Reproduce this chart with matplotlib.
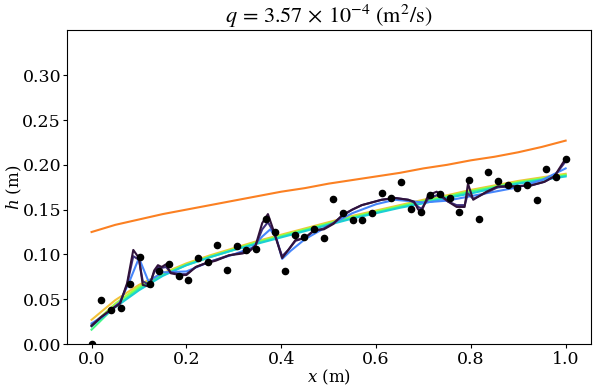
import matplotlib
matplotlib.use("Agg")
from matplotlib import pyplot as plt

plt.rcParams['font.family'] = 'DejaVu Serif'
plt.rcParams['mathtext.fontset'] = 'dejavuserif'
plt.rcParams['font.size'] = 12.5

# measured points (50 evenly spaced stations)
x_data = [i / 49 for i in range(50)]
h_data = [0.000, 0.049, 0.038, 0.040, 0.067, 0.097, 0.067, 0.082, 0.089, 0.076,
          0.071, 0.096, 0.091, 0.110, 0.083, 0.109, 0.105, 0.106, 0.140, 0.125,
          0.081, 0.122, 0.119, 0.128, 0.118, 0.162, 0.146, 0.138, 0.138, 0.146,
          0.168, 0.163, 0.181, 0.151, 0.147, 0.166, 0.167, 0.163, 0.147, 0.183,
          0.140, 0.192, 0.182, 0.178, 0.174, 0.178, 0.161, 0.195, 0.186, 0.207]

# least smoothed fit
x_purple = [0.0, 0.02, 0.04, 0.06, 0.075, 0.088, 0.100, 0.108, 0.122, 0.132, 0.140,
            0.148, 0.157, 0.167, 0.185, 0.200, 0.220, 0.240, 0.262, 0.290, 0.318,
            0.332, 0.346, 0.360, 0.372, 0.385, 0.402, 0.415, 0.430, 0.450, 0.469,
            0.490, 0.510, 0.529, 0.550, 0.570, 0.612, 0.640, 0.668, 0.680, 0.689,
            0.696, 0.710, 0.728, 0.738, 0.752, 0.770, 0.787, 0.794, 0.805, 0.833,
            0.857, 0.892, 0.927, 0.955, 0.976, 1.0]
h_purple = [0.020, 0.030, 0.038, 0.045, 0.068, 0.105, 0.096, 0.066, 0.064, 0.082, 0.088,
            0.086, 0.089, 0.079, 0.077, 0.077, 0.086, 0.090, 0.093, 0.099, 0.101,
            0.103, 0.110, 0.135, 0.145, 0.125, 0.096, 0.105, 0.116, 0.118, 0.127,
            0.128, 0.134, 0.144, 0.150, 0.155, 0.161, 0.163, 0.161, 0.159, 0.150,
            0.148, 0.166, 0.170, 0.166, 0.159, 0.153, 0.153, 0.179, 0.161, 0.170,
            0.176, 0.176, 0.177, 0.181, 0.187, 0.207]
h_navy = [0.021, 0.030, 0.038, 0.046, 0.066, 0.098, 0.094, 0.070, 0.066, 0.080, 0.086,
          0.085, 0.086, 0.080, 0.078, 0.078, 0.086, 0.090, 0.094, 0.099, 0.102,
          0.104, 0.110, 0.128, 0.136, 0.124, 0.098, 0.105, 0.115, 0.119, 0.126,
          0.129, 0.135, 0.143, 0.150, 0.155, 0.161, 0.163, 0.161, 0.158, 0.153,
          0.151, 0.162, 0.166, 0.164, 0.159, 0.155, 0.155, 0.168, 0.162, 0.169,
          0.175, 0.176, 0.177, 0.181, 0.187, 0.204]

x_blue = [0.0, 0.03, 0.06, 0.08, 0.10, 0.12, 0.15, 0.20, 0.25, 0.30, 0.34, 0.36,
          0.377, 0.39, 0.402, 0.42, 0.45, 0.50, 0.55, 0.60, 0.64, 0.70, 0.75,
          0.80, 0.85, 0.90, 0.95, 1.0]
h_blue = [0.023, 0.033, 0.047, 0.070, 0.096, 0.070, 0.080, 0.081, 0.092, 0.100, 0.108,
          0.120, 0.128, 0.118, 0.095, 0.104, 0.117, 0.132, 0.146, 0.156, 0.161, 0.158,
          0.160, 0.165, 0.170, 0.175, 0.183, 0.196]

# smoother fits on a regular grid
x_grid = [i * 0.05 for i in range(21)]
h_cyan = [0.020, 0.041, 0.060, 0.076, 0.088, 0.097, 0.105, 0.112, 0.119, 0.126, 0.133,
          0.140, 0.146, 0.152, 0.157, 0.163, 0.168, 0.174, 0.179, 0.183, 0.187]
h_green = [0.016, 0.042, 0.062, 0.077, 0.088, 0.097, 0.105, 0.113, 0.120, 0.127, 0.134,
           0.141, 0.147, 0.153, 0.159, 0.164, 0.170, 0.175, 0.180, 0.184, 0.188]
h_lime = [0.021, 0.045, 0.064, 0.078, 0.089, 0.098, 0.106, 0.114, 0.121, 0.128, 0.135,
          0.142, 0.148, 0.154, 0.160, 0.165, 0.171, 0.176, 0.181, 0.185, 0.189]
h_yellow = [0.027, 0.049, 0.066, 0.079, 0.090, 0.099, 0.107, 0.115, 0.122, 0.129, 0.136,
            0.143, 0.149, 0.155, 0.161, 0.166, 0.172, 0.177, 0.182, 0.186, 0.190]
h_orange = [0.125, 0.133, 0.139, 0.145, 0.150, 0.155, 0.160, 0.165, 0.170, 0.174, 0.179,
            0.183, 0.187, 0.191, 0.196, 0.200, 0.205, 0.209, 0.214, 0.220, 0.227]

fig = plt.figure(figsize=(5.98, 3.92), dpi=100)
ax = fig.add_axes([0.1115, 0.1224, 0.876, 0.800])

ax.plot(x_grid, h_orange, color='#fb8022', lw=1.5)
ax.plot(x_grid, h_yellow, color='#f3c33a', lw=1.5)
ax.plot(x_grid, h_lime, color='#a4fc3c', lw=1.5)
ax.plot(x_grid, h_green, color='#46f884', lw=1.5)
ax.plot(x_grid, h_cyan, color='#1bcfd4', lw=1.5)
ax.plot(x_blue, h_blue, color='#4686fb', lw=1.5)
ax.plot(x_purple, h_navy, color='#3e2f7e', lw=1.5)
ax.plot(x_purple, h_purple, color='#30123b', lw=1.5)
ax.scatter(x_data, h_data, s=20, color='black', zorder=5)

ax.set_xlim(-0.0525, 1.0525)
ax.set_ylim(0, 0.35)
ax.set_yticks([0.0, 0.05, 0.10, 0.15, 0.20, 0.25, 0.30])
ax.tick_params(axis='y', length=3, pad=1)
ax.tick_params(axis='x', length=3, pad=2)
ax.set_xlabel('$x$ (m)', fontsize=12, labelpad=0)
ax.set_ylabel('$h$ (m)', fontsize=12)
ax.yaxis.set_label_coords(-0.082, 0.5)
ax.set_title(r'$q\,=\,3.57\,\times\,10^{-4}\ (\mathrm{m}^2/\mathrm{s})$',
             math_fontfamily='stix', fontsize=16, pad=4)

fig.savefig('out.png', dpi=100)
